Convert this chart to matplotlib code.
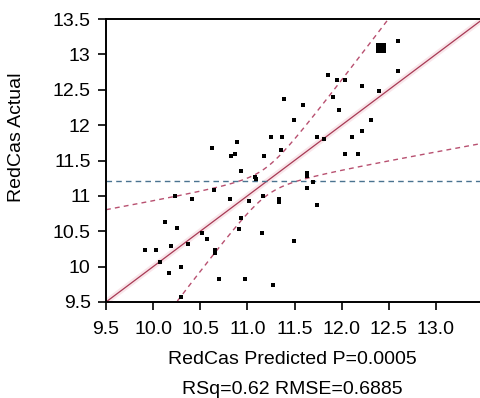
import numpy as np
import matplotlib
matplotlib.use("Agg")
import matplotlib.pyplot as plt

plt.rcParams['font.family'] = ['Liberation Sans', 'DejaVu Sans']

# ---- data ----
predicted = [12.597, 12.597, 11.857, 11.955, 12.037, 12.214, 12.393, 11.393, 11.913,
             11.594, 11.973, 11.496, 12.316, 12.214, 11.255, 11.372, 11.737, 11.814,
             12.111, 10.891, 10.620, 11.358, 10.827, 10.869, 11.172, 12.037, 12.175,
             10.935, 11.082, 11.089, 11.637, 11.637, 11.697, 11.636, 10.650, 10.227,
             11.161, 10.413, 10.818, 11.013, 11.337, 11.337, 11.737, 10.935, 10.130,
             10.251, 10.915, 11.156, 10.514, 10.572, 11.496, 10.193, 10.370, 10.652,
             10.652, 9.916, 10.031, 10.073, 10.291, 10.172, 10.694, 10.976, 11.276,
             10.293]
actual = [13.193, 12.768, 12.715, 12.636, 12.636, 12.555, 12.480, 12.368, 12.395,
          12.286, 12.211, 12.074, 12.074, 11.914, 11.836, 11.836, 11.836, 11.809,
          11.833, 11.755, 11.673, 11.652, 11.568, 11.592, 11.567, 11.592, 11.592,
          11.357, 11.273, 11.238, 11.319, 11.283, 11.191, 11.110, 11.086, 11.000,
          11.004, 10.952, 10.952, 10.926, 10.951, 10.919, 10.873, 10.681, 10.633,
          10.551, 10.525, 10.470, 10.477, 10.391, 10.364, 10.285, 10.313, 10.229,
          10.197, 10.229, 10.229, 10.069, 9.989, 9.907, 9.831, 9.831, 9.746,
          9.569]
highlight_pred = [12.414]
highlight_act = [13.089]

mean_actual = 11.21      # horizontal mean reference line
fit_center = 11.2        # centre of the fitted line / confidence curves
conf_a = 0.04            # confidence-curve constant term
conf_b = 0.575           # confidence-curve slope term

x_ticks = [9.5, 10.0, 10.5, 11.0, 11.5, 12.0, 12.5, 13.0]
x_ticklabels = ['9.5', '10.0', '10.5', '11.0', '11.5', '12.0', '12.5', '13.0']
y_ticks = [9.5, 10, 10.5, 11, 11.5, 12, 12.5, 13, 13.5]
y_ticklabels = ['9.5', '10', '10.5', '11', '11.5', '12', '12.5', '13', '13.5']

# ---- figure ----
W, H = 481, 398
fig = plt.figure(figsize=(W / 100, H / 100), dpi=100)
ax = fig.add_axes([106 / W, (H - 302) / H, 377 / W, 283 / H])
ax.set_xlim(9.5, 13.5)
ax.set_ylim(9.5, 13.5)

xs = np.linspace(9.5, 13.5, 400)
fit = xs
band = np.sqrt(conf_a + conf_b * (xs - fit_center) ** 2)

ax.plot(xs, fit, color='#f9e6ea', lw=4, zorder=1, solid_capstyle='butt')
ax.plot(xs, fit, color='#a83a55', lw=0.9, zorder=2)
ax.plot(xs, fit + band, color='#b85070', lw=1.0, ls=(0, (3.5, 3)), zorder=2)
ax.plot(xs, fit - band, color='#b85070', lw=1.0, ls=(0, (3.5, 3)), zorder=2)
ax.axhline(mean_actual, color='#4a7390', lw=1.0, ls=(0, (4, 3)), zorder=2)

ax.scatter(predicted, actual, s=11, marker='s', color='black', linewidths=0, zorder=3)
ax.scatter(highlight_pred, highlight_act, s=42, marker='s', color='black', linewidths=0, zorder=3)

ax.set_xticks(x_ticks)
ax.set_xticklabels(x_ticklabels)
ax.set_yticks(y_ticks)
ax.set_yticklabels(y_ticklabels)
ax.tick_params(axis='both', direction='out', length=6, width=1.2, labelsize=14,
               colors='black')
ax.tick_params(axis='x', pad=8)
ax.tick_params(axis='y', pad=5)

for side in ['left', 'top', 'bottom']:
    ax.spines[side].set_linewidth(1.4)
    ax.spines[side].set_color('black')
ax.spines['right'].set_visible(False)

fig.text(292 / W, 1 - 360 / H, 'RedCas Predicted P=0.0005', ha='center', va='center',
         fontsize=14)
fig.text(292 / W, 1 - 390 / H, 'RSq=0.62 RMSE=0.6885', ha='center', va='center',
         fontsize=14)
fig.text(17 / W, 1 - 137 / H, 'RedCas Actual', ha='center', va='center',
         rotation=90, fontsize=14)

fig.savefig('out.png', dpi=100)
